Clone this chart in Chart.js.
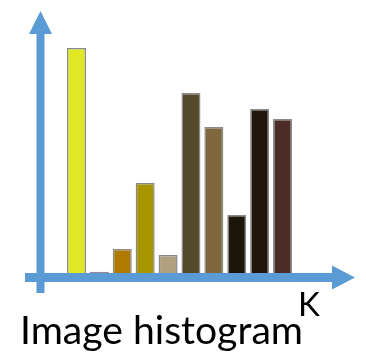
<!DOCTYPE html>
<html>
<head>
<meta charset="utf-8">
<script src="https://cdn.jsdelivr.net/npm/chart.js@4.4.1/dist/chart.umd.min.js"></script>
<style>
  html, body { margin: 0; padding: 0; background: #ffffff; }
  #wrap { width: 366px; height: 354px; position: relative; }
</style>
</head>
<body>
<div id="wrap"><canvas id="hist"></canvas></div>
<script>
// Histogram bins (one bar per colour bin)
const bins = ['c1', 'c2', 'c3', 'c4', 'c5', 'c6', 'c7', 'c8', 'c9', 'c10'];
const counts = [90, 0.5, 9.6, 36, 7.2, 72, 58.4, 23.2, 65.6, 61.6];
const binColors = ['#E0E825', '#6E4E6A', '#B07A00', '#A89600', '#B0A080',
                   '#524A28', '#80683E', '#1A160A', '#22160C', '#4C2C26'];
const axisTitle = 'K';
const caption = 'Image histogram';

const AXIS_BLUE = '#5B9BD5';

// Draws the blue arrow axes and the captions around the plot area
const arrowAxes = {
  id: 'arrowAxes',
  afterDraw(chart) {
    const ctx = chart.ctx;
    const a = chart.chartArea;
    const yAxisX = a.left - 24.5;
    const xAxisY = a.bottom + 4.5;
    ctx.save();
    ctx.fillStyle = AXIS_BLUE;
    // vertical shaft
    ctx.fillRect(yAxisX - 4, a.top + 11, 8, a.bottom + 20 - (a.top + 11));
    // vertical arrowhead
    ctx.beginPath();
    ctx.moveTo(yAxisX, a.top - 12);
    ctx.lineTo(yAxisX + 11.5, a.top + 11);
    ctx.lineTo(yAxisX - 11.5, a.top + 11);
    ctx.closePath();
    ctx.fill();
    // horizontal shaft
    ctx.fillRect(a.left - 40, xAxisY - 4.5, a.right + 39 - (a.left - 40), 9);
    // horizontal arrowhead
    ctx.beginPath();
    ctx.moveTo(a.right + 61, xAxisY);
    ctx.lineTo(a.right + 38, xAxisY - 12);
    ctx.lineTo(a.right + 38, xAxisY + 12);
    ctx.closePath();
    ctx.fill();

    // captions
    ctx.fillStyle = '#000000';
    ctx.textBaseline = 'alphabetic';
    ctx.textAlign = 'left';
    ctx.font = '33px Lato, "Open Sans", sans-serif';
    ctx.fillText(axisTitle, a.right + 4, a.bottom + 43);

    ctx.font = '39px Lato, "Open Sans", sans-serif';
    const w = ctx.measureText(caption).width;
    const target = 283;
    ctx.translate(20, a.bottom + 71);
    ctx.scale(target / w, 1);
    ctx.fillText(caption, 0, 0);
    ctx.restore();
  }
};

new Chart(document.getElementById('hist'), {
  type: 'bar',
  data: {
    labels: bins,
    datasets: [{
      data: counts,
      backgroundColor: binColors,
      borderColor: '#8A8A8A',
      borderWidth: 1.5,
      borderSkipped: 'bottom',
      categoryPercentage: 1.0,
      barPercentage: 0.83
    }]
  },
  options: {
    responsive: true,
    maintainAspectRatio: false,
    animation: false,
    layout: { padding: { left: 65, right: 72, top: 23, bottom: 81 } },
    plugins: { legend: { display: false }, tooltip: { enabled: false }, title: { display: false } },
    scales: {
      x: { display: false, offset: true },
      y: { display: false, min: 0, max: 100 }
    }
  },
  plugins: [arrowAxes]
});
</script>
</body>
</html>
